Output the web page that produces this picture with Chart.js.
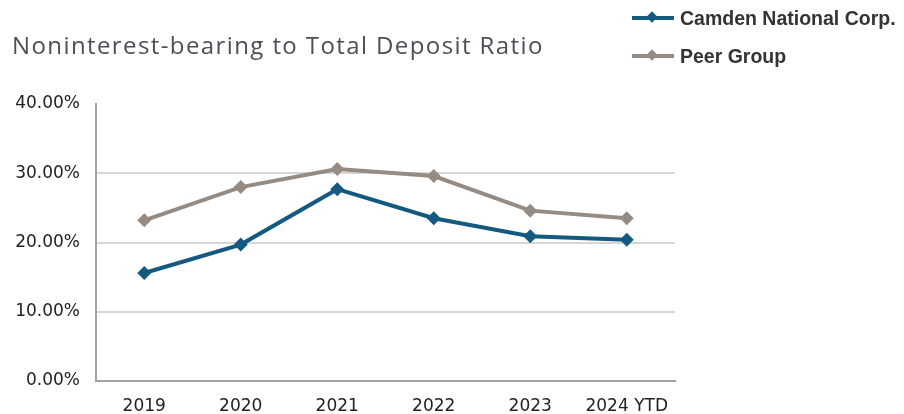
<!DOCTYPE html>
<html>
<head>
<meta charset="utf-8">
<script src="https://cdn.jsdelivr.net/npm/chart.js@4/dist/chart.umd.min.js"></script>
<style>
  html, body { margin: 0; padding: 0; background: #fff; }
  #wrap { position: relative; width: 904px; height: 414px; }
  #title { position: absolute; left: 12px; top: 28px; font-family: "Open Sans", sans-serif; font-size: 24px; letter-spacing: 1.4px; color: #4b5056; }
  #legend { position: absolute; left: 632px; top: 4px; font-family: "Liberation Sans", Arial, sans-serif; font-size: 19.5px; font-weight: bold; color: #333; }
  .item { position: relative; height: 38px; line-height: 28px; padding-left: 48px; }
  .item i { position: absolute; left: 0; top: 12px; width: 42px; height: 4px; }
  .item b { position: absolute; left: 16px; top: 9px; width: 8px; height: 8px; transform: rotate(45deg); }
  canvas { position: absolute; left: 0; top: 0; }
</style>
</head>
<body>
<div id="wrap">
  <canvas id="chart" width="904" height="414"></canvas>
  <div id="title">Noninterest-bearing to Total Deposit Ratio</div>
  <div id="legend"></div>
</div>
<script>
const years = ["2019", "2020", "2021", "2022", "2023", "2024 YTD"];
const camden = [15.6, 19.7, 27.7, 23.5, 20.9, 20.4];
const peer = [23.2, 28.0, 30.6, 29.6, 24.6, 23.5];
const seriesNames = ["Camden National Corp.", "Peer Group"];
const seriesColors = ["#14597f", "#968b83"];

// Legend built from the series arrays
const legend = document.getElementById("legend");
seriesNames.forEach((name, i) => {
    const div = document.createElement("div");
    div.className = "item";
    div.innerHTML = `<i style="background:${seriesColors[i]}"></i><b style="background:${seriesColors[i]}"></b>${name}`;
    legend.appendChild(div);
});

function makeSet(label, data, color) {
    return {
        label: label,
        data: data,
        borderColor: color,
        backgroundColor: color,
        borderWidth: 4,
        pointStyle: "rectRot",
        pointRadius: 7,
        pointBorderWidth: 0,
        tension: 0,
        fill: false,
    };
}

const tickFont = { family: "'DejaVu Sans', Verdana, sans-serif", size: 17 };

new Chart(document.getElementById("chart"), {
    type: "line",
    data: {
        labels: years,
        datasets: [
            makeSet(seriesNames[1], peer, seriesColors[1]),
            makeSet(seriesNames[0], camden, seriesColors[0]),
        ],
    },
    options: {
        responsive: false,
        animation: false,
        layout: { padding: { left: 0, top: 104, right: 229, bottom: 0 } },
        plugins: { legend: { display: false }, tooltip: { enabled: false } },
        scales: {
            x: {
                offset: true,
                grid: { display: false, drawTicks: false, offset: true },
                border: { color: "#a3a3a3", width: 2 },
                ticks: { color: "#222", font: tickFont, padding: 15, maxRotation: 0 },
                afterFit: (s) => { s.height = 33; },
            },
            y: {
                min: 0,
                max: 40,
                ticks: {
                    stepSize: 10,
                    color: "#222",
                    font: tickFont,
                    padding: 16,
                    callback: (v) => v.toFixed(2) + "%",
                },
                grid: {
                    color: (c) => (c.tick && c.tick.value === 40 ? "rgba(0,0,0,0)" : "#d6d6d6"),
                    lineWidth: 2,
                    drawTicks: false,
                },
                border: { color: "#a3a3a3", width: 2 },
                afterFit: (s) => { s.width = 96; },
            },
        },
    },
});
</script>
</body>
</html>
